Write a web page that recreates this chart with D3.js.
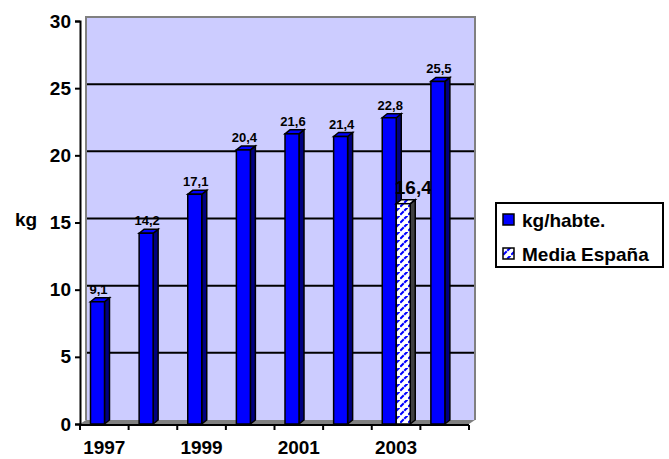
<!DOCTYPE html>
<html>
<head>
<meta charset="utf-8">
<script src="https://cdn.jsdelivr.net/npm/d3@7"></script>
<style>
  body { margin: 0; background: #fff; }
  text { font-family: "Liberation Sans", Arial, sans-serif; font-weight: bold; }
</style>
</head>
<body>
<script>
let years = ["1997", "1998", "1999", "2000", "2001", "2002", "2003", "2004"];
let shownYears = ["1997", "1999", "2001", "2003"];
let kgHab = [9.1, 14.2, 17.1, 20.4, 21.6, 21.4, 22.8, 25.5];
let mediaEspana = [null, null, null, null, null, null, 16.4, null];
let yTicks = [0, 5, 10, 15, 20, 25, 30];
let seriesNames = ["kg/habte.", "Media España"];

let width = 669, height = 459;
let dx = 6, dy = -4;      // depth of the back wall
let bdx = 5, bdy = -4;    // depth of each bar

let svg = d3.select('body').append('svg')
    .attr('width', width)
    .attr('height', height);

let defs = svg.append('defs');
let pat = defs.append('pattern')
    .attr('id', 'hatch')
    .attr('patternUnits', 'userSpaceOnUse')
    .attr('width', 8).attr('height', 8);
pat.append('rect').attr('width', 8).attr('height', 8).attr('fill', '#fff');
pat.append('path')
    .attr('d', 'M1,6 L3,4 M5,2 L7,0')
    .attr('stroke', '#0000ff').attr('stroke-width', 2).attr('stroke-linecap', 'square');

let x = d3.scaleBand().domain(years).range([80, 469]);
let y = d3.scaleLinear().domain([0, 30]).range([424, 21]);

// back wall
svg.append('rect')
    .attr('x', 80 + dx).attr('y', y(30) + dy)
    .attr('width', 474 - 80 - dx).attr('height', y(0) - y(30))
    .attr('fill', '#ccccff');
// floor
svg.append('polygon')
    .attr('points', [[80, y(0)], [80 + dx, y(0) + dy], [469 + dx, y(0) + dy], [469, y(0)]].join(' '))
    .attr('fill', '#808080');

// gridlines
svg.append('g').selectAll('line').data(yTicks.filter(d => d > 0 && d < 30)).join('line')
    .attr('x1', 80 + dx).attr('x2', 469 + dx)
    .attr('y1', d => y(d) + dy).attr('y2', d => y(d) + dy)
    .attr('stroke', '#000').attr('stroke-width', 2);

// wall edges
svg.append('path')
    .attr('d', `M${80 + dx},${y(0) + dy} V${y(30) + dy} H${469 + dx} V${y(0) + dy}`)
    .attr('fill', 'none').attr('stroke', '#808080').attr('stroke-width', 2);

// bars
let barW = 14, gap = 10.5;
function drawBar(g, x0, v, fillFront, fillSide, fillTop) {
    let yt = y(v), yb = y(0);
    g.append('polygon')
        .attr('points', [[x0 + barW, yb], [x0 + barW + bdx, yb + bdy], [x0 + barW + bdx, yt + bdy], [x0 + barW, yt]].join(' '))
        .attr('fill', fillSide).attr('stroke', '#000').attr('stroke-width', 1.5);
    g.append('polygon')
        .attr('points', [[x0, yt], [x0 + bdx, yt + bdy], [x0 + barW + bdx, yt + bdy], [x0 + barW, yt]].join(' '))
        .attr('fill', fillTop).attr('stroke', '#000').attr('stroke-width', 1.5);
    g.append('rect')
        .attr('x', x0).attr('y', yt).attr('width', barW).attr('height', yb - yt)
        .attr('fill', fillFront).attr('stroke', '#000').attr('stroke-width', 1.5);
}

let barsG = svg.append('g');
years.forEach((yr, i) => {
    let g = barsG.append('g');
    let x0 = x(yr) + gap;
    drawBar(g, x0, kgHab[i], '#0000ff', '#000080', '#0000ff');
    g.append('text')
        .attr('x', x0 + 8).attr('y', y(kgHab[i]) - 8)
        .attr('text-anchor', 'middle').attr('font-size', 13)
        .text(String(kgHab[i]).replace('.', ','));
    if (mediaEspana[i] != null) {
        let x1 = x0 + barW;
        drawBar(g, x1, mediaEspana[i], 'url(#hatch)', '#404040', 'url(#hatch)');
        g.append('text')
            .attr('x', x1 + 17).attr('y', y(mediaEspana[i]) - 10)
            .attr('text-anchor', 'middle').attr('font-size', 19)
            .text(String(mediaEspana[i]).replace('.', ','));
    }
});

// y axis
let yAxis = svg.append('g')
    .attr('transform', 'translate(80,0)')
    .call(d3.axisLeft(y).tickValues(yTicks).tickSize(5).tickPadding(4));
yAxis.select('.domain').attr('stroke', '#000').attr('stroke-width', 2);
yAxis.selectAll('.tick line').attr('stroke-width', 2);
yAxis.selectAll('.tick text').attr('font-size', 19).attr('fill', '#000');

// x axis
let xg = svg.append('g').attr('transform', `translate(0,${y(0) + 1})`);
xg.append('line').attr('x1', 79).attr('x2', 469).attr('y1', 0).attr('y2', 0)
    .attr('stroke', '#000').attr('stroke-width', 2);
xg.selectAll('.tk').data(years.concat(['end'])).join('line')
    .attr('class', 'tk')
    .attr('x1', (d, i) => i < years.length ? x(d) : x.range()[1])
    .attr('x2', (d, i) => i < years.length ? x(d) : x.range()[1])
    .attr('y1', 0).attr('y2', 5)
    .attr('stroke', '#000').attr('stroke-width', 2);
let xAxis = svg.append('g')
    .attr('transform', `translate(0,${y(0) + 1})`)
    .call(d3.axisBottom(x).tickValues(shownYears).tickSize(0).tickPadding(16));
xAxis.select('.domain').remove();
xAxis.selectAll('.tick text').attr('font-size', 19).attr('fill', '#000');

// y title
svg.append('text').attr('x', 26).attr('y', 226).attr('text-anchor', 'middle')
    .attr('font-size', 19).text('kg');

// legend
let lg = svg.append('g').attr('transform', 'translate(496,203)');
lg.append('rect').attr('width', 167).attr('height', 64)
    .attr('fill', '#fff').attr('stroke', '#000').attr('stroke-width', 2);
let items = lg.selectAll('g.item').data(seriesNames).join('g')
    .attr('class', 'item')
    .attr('transform', (d, i) => `translate(7,${11 + i * 34})`);
items.append('rect').attr('width', 11).attr('height', 11)
    .attr('fill', (d, i) => i === 0 ? '#0000ff' : 'url(#hatch)')
    .attr('stroke', '#000').attr('stroke-width', 1.5);
items.append('text').attr('x', 19).attr('y', 13).attr('font-size', 19).text(d => d);
</script>
</body>
</html>
